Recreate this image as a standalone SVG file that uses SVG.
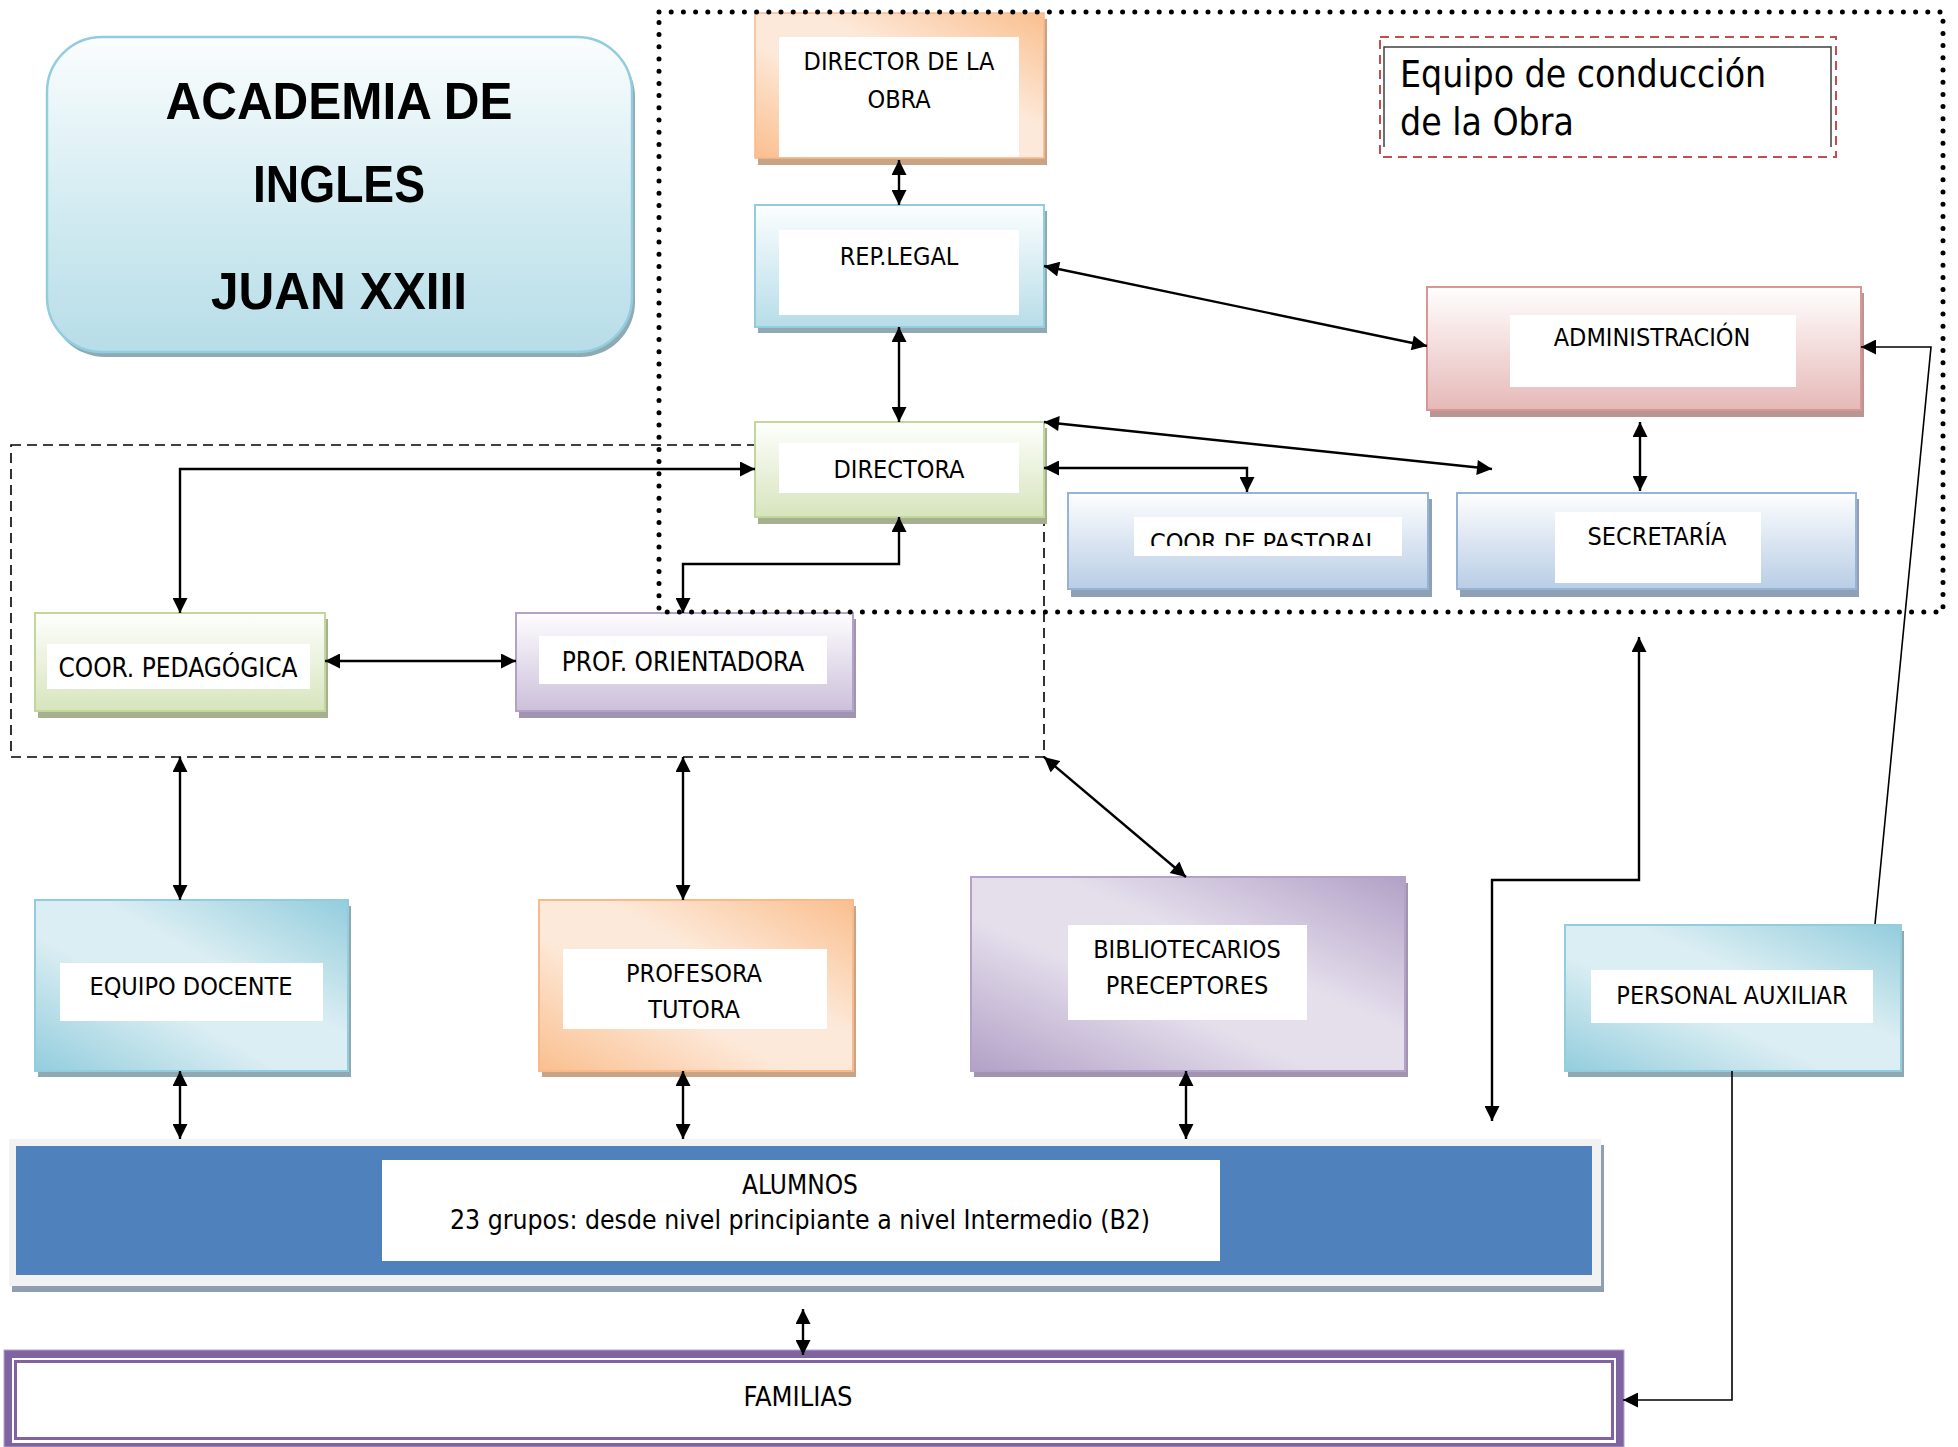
<svg xmlns="http://www.w3.org/2000/svg" width="1958" height="1447" viewBox="0 0 1958 1447">
<defs>
<style>
.lbl{font-family:"DejaVu Sans Condensed","DejaVu Sans",sans-serif;font-size:25px;fill:#000;text-anchor:middle}
.nar{font-family:"Liberation Sans Narrow","DejaVu Sans Condensed",sans-serif;font-size:26px;fill:#000;text-anchor:middle}
.ttl{font-family:"Liberation Sans",Arial,sans-serif;font-weight:bold;font-size:51px;fill:#000;text-anchor:middle}
.cap{font-family:"DejaVu Sans Condensed","DejaVu Sans",sans-serif;font-size:37px;fill:#000}
.inner{fill:#fff}
.con{fill:none;stroke:#000;stroke-width:2.4;marker-start:url(#ah);marker-end:url(#ah)}
.thin{fill:none;stroke:#000;stroke-width:1.6;marker-end:url(#ah)}
</style>
<marker id="ah" viewBox="0 0 10 10" refX="10" refY="5" markerWidth="16" markerHeight="15" markerUnits="userSpaceOnUse" orient="auto-start-reverse">
<path d="M0,0 L10,5 L0,10 z" fill="#000"/>
</marker>
<linearGradient id="gTitle" x1="0" y1="0" x2="0" y2="1"><stop offset="0" stop-color="#fbfdfe"/><stop offset="0.55" stop-color="#d2ebf1"/><stop offset="1" stop-color="#b7dde8"/></linearGradient>
<linearGradient id="gBlueV" x1="0" y1="0" x2="0" y2="1"><stop offset="0" stop-color="#fcfeff"/><stop offset="1" stop-color="#b7dde8"/></linearGradient>
<linearGradient id="gGreenV" x1="0" y1="0" x2="0" y2="1"><stop offset="0" stop-color="#fefffd"/><stop offset="1" stop-color="#d7e4bd"/></linearGradient>
<linearGradient id="gRedV" x1="0" y1="0" x2="0" y2="1"><stop offset="0" stop-color="#fffefe"/><stop offset="1" stop-color="#e6b9b8"/></linearGradient>
<linearGradient id="gSteelV" x1="0" y1="0" x2="0" y2="1"><stop offset="0" stop-color="#fdfeff"/><stop offset="1" stop-color="#b9cde5"/></linearGradient>
<linearGradient id="gPurpleV" x1="0" y1="0" x2="0" y2="1"><stop offset="0" stop-color="#fefdff"/><stop offset="1" stop-color="#ccc0da"/></linearGradient>
<linearGradient id="gOrangeD" x1="0" y1="1" x2="1" y2="0"><stop offset="0" stop-color="#fabf8f"/><stop offset="0.4" stop-color="#fde9d9"/><stop offset="0.6" stop-color="#fde9d9"/><stop offset="1" stop-color="#fabf8f"/></linearGradient>
<linearGradient id="gBlueD" x1="0" y1="1" x2="1" y2="0"><stop offset="0" stop-color="#93cddd"/><stop offset="0.4" stop-color="#dbeef3"/><stop offset="0.6" stop-color="#dbeef3"/><stop offset="1" stop-color="#93cddd"/></linearGradient>
<linearGradient id="gPurpleD" x1="0" y1="1" x2="1" y2="0"><stop offset="0" stop-color="#b2a1c7"/><stop offset="0.4" stop-color="#e5dfec"/><stop offset="0.6" stop-color="#e5dfec"/><stop offset="1" stop-color="#b2a1c7"/></linearGradient>
<clipPath id="clipPast"><rect x="1134" y="517" width="268" height="29"/></clipPath>
</defs>
<rect width="1958" height="1447" fill="#fff"/>

<!-- group boundaries -->
<rect x="11" y="445" width="1033" height="312" fill="none" stroke="#000" stroke-width="1.6" stroke-dasharray="10 6"/>

<g id="title">
<rect x="50" y="42" width="585" height="315" rx="55" fill="#8eabb5"/>
<rect x="47" y="37" width="585" height="315" rx="55" fill="url(#gTitle)" stroke="#93cddd" stroke-width="2.5"/>
<text class="ttl" x="339" y="119" textLength="347" lengthAdjust="spacingAndGlyphs">ACADEMIA DE</text>
<text class="ttl" x="339" y="202" textLength="172" lengthAdjust="spacingAndGlyphs">INGLES</text>
<text class="ttl" x="339" y="309" textLength="256" lengthAdjust="spacingAndGlyphs">JUAN XXIII</text>
</g>

<g id="equipo-label">
<rect x="1380" y="37" width="456" height="120" fill="#fff" stroke="#c0504d" stroke-width="2" stroke-dasharray="9 6"/>
<path d="M1384,147 L1384,47 L1831,47 L1831,147" fill="none" stroke="#404040" stroke-width="1.5"/>
<text class="cap" x="1400" y="87">Equipo de conducción</text>
<text class="cap" x="1400" y="135">de la Obra</text>
</g>

<g id="director-obra">
<rect x="758" y="19" width="289" height="146" fill="#c9a386"/>
<rect x="755" y="13" width="289" height="145" fill="url(#gOrangeD)" stroke="#f9b98a" stroke-width="1.5"/>
<rect class="inner" x="779" y="37" width="240" height="120"/>
<text class="lbl" x="899" y="70">DIRECTOR DE LA</text>
<text class="lbl" x="899" y="108">OBRA</text>
</g>

<g id="rep-legal">
<rect x="758" y="211" width="289" height="122" fill="#8ea9b2"/>
<rect x="755" y="205" width="289" height="122" fill="url(#gBlueV)" stroke="#93cddd" stroke-width="2"/>
<rect class="inner" x="779" y="230" width="240" height="85"/>
<text class="lbl" x="899" y="265">REP.LEGAL</text>
</g>

<g id="directora">
<rect x="758" y="428" width="289" height="96" fill="#a5b08f"/>
<rect x="755" y="422" width="289" height="95" fill="url(#gGreenV)" stroke="#c3d69b" stroke-width="2"/>
<rect class="inner" x="779" y="443" width="240" height="50"/>
<text class="lbl" x="899" y="478">DIRECTORA</text>
</g>

<g id="administracion">
<rect x="1430" y="293" width="434" height="124" fill="#b99594"/>
<rect x="1427" y="287" width="434" height="123" fill="url(#gRedV)" stroke="#d99694" stroke-width="2"/>
<rect class="inner" x="1510" y="315" width="286" height="72"/>
<text class="lbl" x="1652" y="346">ADMINISTRACIÓN</text>
</g>

<g id="coor-pastoral">
<rect x="1071" y="499" width="361" height="98" fill="#8ea0b5"/>
<rect x="1068" y="493" width="360" height="96" fill="url(#gSteelV)" stroke="#95b3d7" stroke-width="2"/>
<rect class="inner" x="1134" y="517" width="268" height="39"/>
<text class="lbl" x="1264" y="551" clip-path="url(#clipPast)">COOR DE PASTORAL</text>
</g>

<g id="secretaria">
<rect x="1460" y="499" width="399" height="98" fill="#8ea0b5"/>
<rect x="1457" y="493" width="399" height="96" fill="url(#gSteelV)" stroke="#95b3d7" stroke-width="2"/>
<rect class="inner" x="1555" y="512" width="206" height="71"/>
<text class="lbl" x="1657" y="545">SECRETARÍA</text>
</g>

<g id="coor-pedagogica">
<rect x="38" y="619" width="290" height="99" fill="#a5b08f"/>
<rect x="35" y="613" width="290" height="98" fill="url(#gGreenV)" stroke="#c3d69b" stroke-width="2"/>
<rect class="inner" x="47" y="644" width="263" height="45"/>
<text class="nar" x="178" y="677">COOR. PEDAGÓGICA</text>
</g>

<g id="prof-orientadora">
<rect x="519" y="619" width="337" height="99" fill="#a294b0"/>
<rect x="516" y="613" width="337" height="98" fill="url(#gPurpleV)" stroke="#b3a2c7" stroke-width="2"/>
<rect class="inner" x="539" y="636" width="288" height="48"/>
<text class="nar" x="683" y="671">PROF. ORIENTADORA</text>
</g>

<g id="equipo-docente">
<rect x="38" y="906" width="313" height="171" fill="#8ea9b2"/>
<rect x="35" y="900" width="313" height="171" fill="url(#gBlueD)" stroke="#93cddd" stroke-width="2"/>
<rect class="inner" x="60" y="963" width="263" height="58"/>
<text class="lbl" x="191" y="995">EQUIPO DOCENTE</text>
</g>

<g id="profesora-tutora">
<rect x="542" y="906" width="314" height="171" fill="#c9a386"/>
<rect x="539" y="900" width="314" height="171" fill="url(#gOrangeD)" stroke="#f9b98a" stroke-width="2"/>
<rect class="inner" x="563" y="949" width="264" height="80"/>
<text class="lbl" x="694" y="982">PROFESORA</text>
<text class="lbl" x="694" y="1018">TUTORA</text>
</g>

<g id="bibliotecarios">
<rect x="974" y="883" width="434" height="194" fill="#a294b0"/>
<rect x="971" y="877" width="434" height="194" fill="url(#gPurpleD)" stroke="#b3a2c7" stroke-width="2"/>
<rect class="inner" x="1068" y="925" width="239" height="95"/>
<text class="lbl" x="1187" y="958">BIBLIOTECARIOS</text>
<text class="lbl" x="1187" y="994">PRECEPTORES</text>
</g>

<g id="personal-auxiliar">
<rect x="1568" y="931" width="336" height="146" fill="#8ea9b2"/>
<rect x="1565" y="925" width="336" height="146" fill="url(#gBlueD)" stroke="#93cddd" stroke-width="2"/>
<rect class="inner" x="1591" y="970" width="282" height="53"/>
<text class="lbl" x="1732" y="1004">PERSONAL AUXILIAR</text>
</g>

<g id="alumnos">
<rect x="12" y="1145" width="1592" height="147" fill="#8f9fb0"/>
<rect x="9" y="1139" width="1592" height="147" fill="#f2f2f2"/>
<rect x="16" y="1146" width="1576" height="129" fill="#4f81bd"/>
<rect class="inner" x="382" y="1160" width="838" height="101"/>
<text class="lbl" x="800" y="1194" style="font-size:26px">ALUMNOS</text>
<text class="lbl" x="800" y="1229" style="font-size:26px" textLength="700" lengthAdjust="spacingAndGlyphs">23 grupos: desde nivel principiante a nivel Intermedio (B2)</text>
</g>

<g id="familias">
<rect x="4" y="1350" width="1620" height="97" fill="#8064a2" stroke="#b3a2c7" stroke-width="1"/>
<rect x="12" y="1358" width="1604" height="85" fill="#fff"/>
<rect x="15.5" y="1361.5" width="1597" height="77" fill="#fff" stroke="#8064a2" stroke-width="3"/>
<text class="lbl" x="798" y="1406" style="font-size:27px">FAMILIAS</text>
</g>

<!-- management team boundary -->
<rect x="659" y="12" width="1284" height="600" fill="none" stroke="#000" stroke-width="5" stroke-dasharray="0 12.2" stroke-linecap="round"/>

<g id="connectors">
<path class="con" d="M899,160 L899,205"/>
<path class="con" d="M899,327 L899,422"/>
<path class="con" d="M1044,266 L1427,346"/>
<path class="con" d="M1044,422 L1492,469"/>
<path class="con" d="M1044,468 L1247,468 L1247,492"/>
<path class="con" d="M1640,422 L1640,491"/>
<path class="con" d="M755,469 L180,469 L180,613"/>
<path class="con" d="M899,517 L899,564 L683,564 L683,613"/>
<path class="con" d="M325,661 L516,661"/>
<path class="con" d="M180,757 L180,900"/>
<path class="con" d="M683,757 L683,900"/>
<path class="con" d="M1044,757 L1186,877"/>
<path class="con" d="M180,1071 L180,1139"/>
<path class="con" d="M683,1071 L683,1139"/>
<path class="con" d="M1186,1071 L1186,1139"/>
<path class="con" d="M1639,637 L1639,880 L1492,880 L1492,1121"/>
<path class="thin" d="M1875,924 L1931,347 L1861,347"/>
<path class="thin" d="M1732,1071 L1732,1400 L1623,1400"/>
<path class="con" d="M803,1309 L803,1355"/>
</g>
</svg>
